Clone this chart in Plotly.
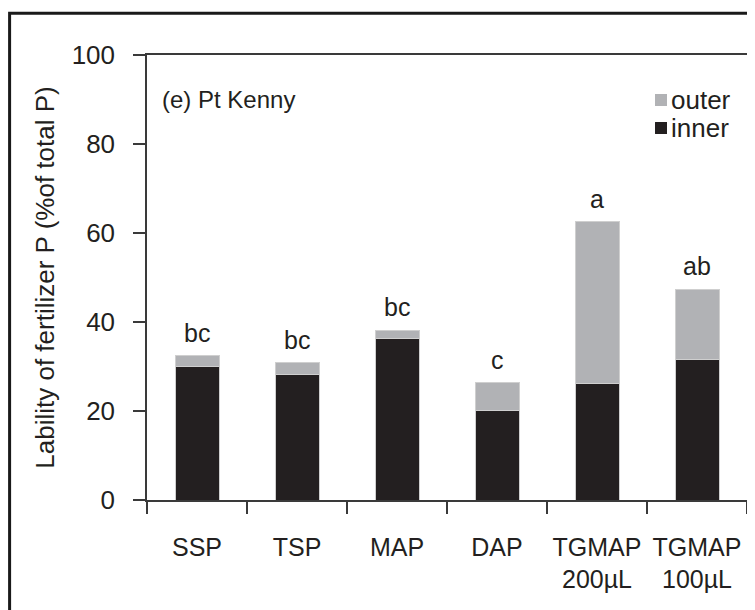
import plotly.graph_objects as go

cats = ['SSP', 'TSP', 'MAP', 'DAP', 'TGMAP<br>200µL', 'TGMAP<br>100µL']
inner = [30.0, 28.2, 36.2, 20.1, 26.2, 31.6]
total = [32.4, 30.8, 38.2, 26.4, 62.5, 47.4]
letters = ['bc', 'bc', 'bc', 'c', 'a', 'ab']
outer = [t - i for t, i in zip(total, inner)]

FONT = 'Liberation Sans, Arial'
INK = '#231f20'; GREY = '#b1b2b5'; AX = '#3a3a3a'

fig = go.Figure()
fig.add_trace(go.Bar(x=cats, y=inner, name='inner', marker=dict(color=INK, line=dict(color='#cfcfcf', width=1))))
fig.add_trace(go.Bar(x=cats, y=outer, name='outer', marker=dict(color=GREY, line=dict(color='#cfcfcf', width=1))))

for c, t, l in zip(cats, total, letters):
    fig.add_annotation(x=c, y=t, text=l, showarrow=False, yanchor='bottom', yshift=7,
                       font=dict(size=25, color=INK, family=FONT))

fig.add_annotation(xref='paper', yref='paper', x=0.022, y=0.9, text='(e) Pt Kenny', showarrow=False,
                   xanchor='left', yanchor='middle', font=dict(size=24, color=INK, family=FONT))

# legend drawn by hand: tight rows like the original
for name, col, ya, yb, yt in [('outer', GREY, 0.8854, 0.9124, 0.899), ('inner', INK, 0.8225, 0.8494, 0.836)]:
    fig.add_shape(type='rect', xref='paper', yref='paper', x0=0.8467, x1=0.8667, y0=ya, y1=yb,
                  fillcolor=col, line=dict(width=0))
    fig.add_annotation(xref='paper', yref='paper', x=0.870, y=yt, text=name, showarrow=False,
                       xanchor='left', yanchor='middle', font=dict(size=26, color=INK, family=FONT))

# outer frame of the panel (page has an 8px body margin, so margins are shifted by it)
fig.add_shape(type='rect', xref='paper', yref='paper', x0=-0.229, x1=1.2, y0=-0.6, y1=1.094,
              line=dict(color='#1a1a1a', width=3), layer='above')

fig.update_layout(
    width=755, height=610, barmode='stack', bargap=0.56, showlegend=False,
    plot_bgcolor='white', paper_bgcolor='white',
    margin=dict(l=139, r=16, t=47, b=118),
    font=dict(family=FONT, color=INK, size=25),
    xaxis=dict(showline=True, linecolor=AX, linewidth=1.5, mirror=True, ticks='outside',
               tickson='boundaries', ticklen=12, tickcolor=AX, tickwidth=1.5,
               showgrid=False, range=[-0.5, 5.5], tickfont=dict(size=25, family=FONT),
               tickangle=0, automargin=False, ticklabelstandoff=24),
    yaxis=dict(range=[0, 100], dtick=20, showline=True, linecolor=AX, linewidth=1.5,
               ticks='outside', ticklen=12, tickcolor=AX, tickwidth=1.5, showgrid=False,
               zeroline=False, tickfont=dict(size=26, family=FONT), ticklabelstandoff=13,
               automargin=False,
               title=dict(text='Lability of fertilizer P (%of total P)', standoff=10,
                          font=dict(size=26, family=FONT))),
)

fig.write_html('out.html')
